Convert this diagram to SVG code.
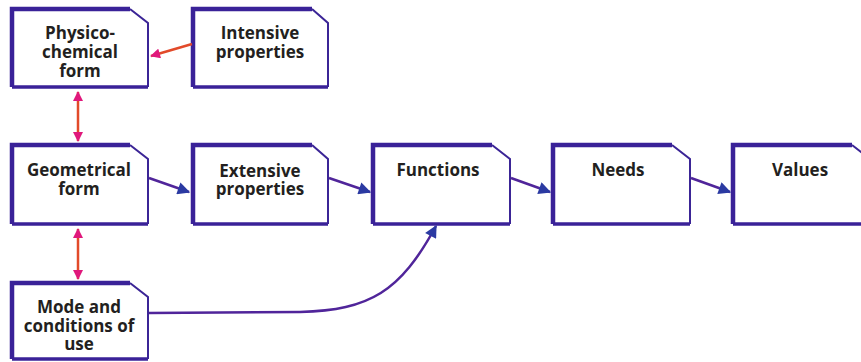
<svg xmlns="http://www.w3.org/2000/svg" width="861" height="362" viewBox="0 0 861 362">
  <style>
    .box-fill { fill: #ffffff; }
    .box-thin { fill: none; stroke: #3b2596; stroke-width: 2; stroke-linejoin: miter; }
    .box-thick { fill: none; stroke: #3a2298; stroke-width: 4.5; stroke-linejoin: miter; }
    .box-base { fill: none; stroke: #3a2298; stroke-width: 3.5; }
    .label { font-family: "Open Sans", "Noto Sans", "Liberation Sans", sans-serif; font-weight: 700; font-size: 17px; fill: #231f20; text-anchor: middle; }
    .flow { fill: none; stroke: #50259a; stroke-width: 2.5; }
    .link { fill: none; stroke: #e24a2a; stroke-width: 2.5; }
  </style>
  <defs>
    <marker id="headBlue" viewBox="0 0 10 10" refX="9" refY="5" markerWidth="6" markerHeight="5" orient="auto" markerUnits="strokeWidth">
      <path d="M0,0 L10,5 L0,10 z" fill="#2b3aa2"/>
    </marker>
    <marker id="headPink" viewBox="0 0 10 10" refX="9" refY="5" markerWidth="5" markerHeight="4" orient="auto" markerUnits="strokeWidth">
      <path d="M0,0 L10,5 L0,10 z" fill="#e0187c"/>
    </marker>
    <marker id="headPinkStart" viewBox="0 0 10 10" refX="1" refY="5" markerWidth="5" markerHeight="4" orient="auto" markerUnits="strokeWidth">
      <path d="M10,0 L0,5 L10,10 z" fill="#e0187c"/>
    </marker>
  </defs>

  <!-- Node template: body with clipped top-right corner, heavy left/top/bottom edge -->
  <g id="physico-chemical-form">
    <path class="box-fill" d="M12,9 H130 L148,23 V87 H12 Z"/>
    <path class="box-thin" d="M130,9 L148,23 V87"/>
    <path class="box-thick" d="M130,9 H12 V87"/>
    <path class="box-base" d="M12,87 H148"/>
    <text class="label" x="80" y="39">Physico-</text>
    <text class="label" x="80" y="58">chemical</text>
    <text class="label" x="80" y="77">form</text>
  </g>

  <g id="intensive-properties">
    <path class="box-fill" d="M193,9 H312 L328,23 V87 H193 Z"/>
    <path class="box-thin" d="M312,9 L328,23 V87"/>
    <path class="box-thick" d="M312,9 H193 V87"/>
    <path class="box-base" d="M193,87 H328"/>
    <text class="label" x="260" y="39">Intensive</text>
    <text class="label" x="260" y="58">properties</text>
  </g>

  <g id="geometrical-form">
    <path class="box-fill" d="M12,145 H130 L148,159 V224 H12 Z"/>
    <path class="box-thin" d="M130,145 L148,159 V224"/>
    <path class="box-thick" d="M130,145 H12 V224"/>
    <path class="box-base" d="M12,224 H148"/>
    <text class="label" x="79" y="176">Geometrical</text>
    <text class="label" x="79" y="195">form</text>
  </g>

  <g id="extensive-properties">
    <path class="box-fill" d="M193,145 H312 L328,159 V224 H193 Z"/>
    <path class="box-thin" d="M312,145 L328,159 V224"/>
    <path class="box-thick" d="M312,145 H193 V224"/>
    <path class="box-base" d="M193,224 H328"/>
    <text class="label" x="260" y="177">Extensive</text>
    <text class="label" x="260" y="195">properties</text>
  </g>

  <g id="functions">
    <path class="box-fill" d="M373,145 H492 L510,159 V224 H373 Z"/>
    <path class="box-thin" d="M492,145 L510,159 V224"/>
    <path class="box-thick" d="M492,145 H373 V224"/>
    <path class="box-base" d="M373,224 H510"/>
    <text class="label" x="438" y="176">Functions</text>
  </g>

  <g id="needs">
    <path class="box-fill" d="M553,145 H672 L690,159 V224 H553 Z"/>
    <path class="box-thin" d="M672,145 L690,159 V224"/>
    <path class="box-thick" d="M672,145 H553 V224"/>
    <path class="box-base" d="M553,224 H690"/>
    <text class="label" x="618" y="176">Needs</text>
  </g>

  <g id="values">
    <path class="box-fill" d="M733,145 H852 L870,159 V224 H733 Z"/>
    <path class="box-thin" d="M852,145 L870,159 V224"/>
    <path class="box-thick" d="M852,145 H733 V224"/>
    <path class="box-base" d="M733,224 H870"/>
    <text class="label" x="800" y="176">Values</text>
  </g>

  <g id="mode-and-conditions-of-use">
    <path class="box-fill" d="M12,283 H130 L148,297 V359 H12 Z"/>
    <path class="box-thin" d="M130,283 L148,297 V359"/>
    <path class="box-thick" d="M130,283 H12 V359"/>
    <path class="box-base" d="M12,359 H148"/>
    <text class="label" x="79" y="313">Mode and</text>
    <text class="label" x="79" y="332">conditions of</text>
    <text class="label" x="79" y="350">use</text>
  </g>

  <g id="connectors">
    <!-- intensive properties into physico-chemical form -->
    <path class="link" d="M192,44 L151,56" marker-end="url(#headPink)" stroke="#cc2f48"/>
    <!-- two-way links along the left column -->
    <path class="link" d="M78,92 V141" marker-start="url(#headPinkStart)" marker-end="url(#headPink)"/>
    <path class="link" d="M78,229 V279" marker-start="url(#headPinkStart)" marker-end="url(#headPink)"/>
    <!-- main chain -->
    <path class="flow" d="M149,178 L189,192" marker-end="url(#headBlue)"/>
    <path class="flow" d="M329,178 L370,192" marker-end="url(#headBlue)"/>
    <path class="flow" d="M511,178 L550,192" marker-end="url(#headBlue)"/>
    <path class="flow" d="M691,178 L730,192" marker-end="url(#headBlue)"/>
    <!-- mode and conditions of use into functions -->
    <path class="flow" d="M149,313 L300,312 C370,310 400,292 436,226" marker-end="url(#headBlue)" stroke="#3b2aa0"/>
  </g>
</svg>
